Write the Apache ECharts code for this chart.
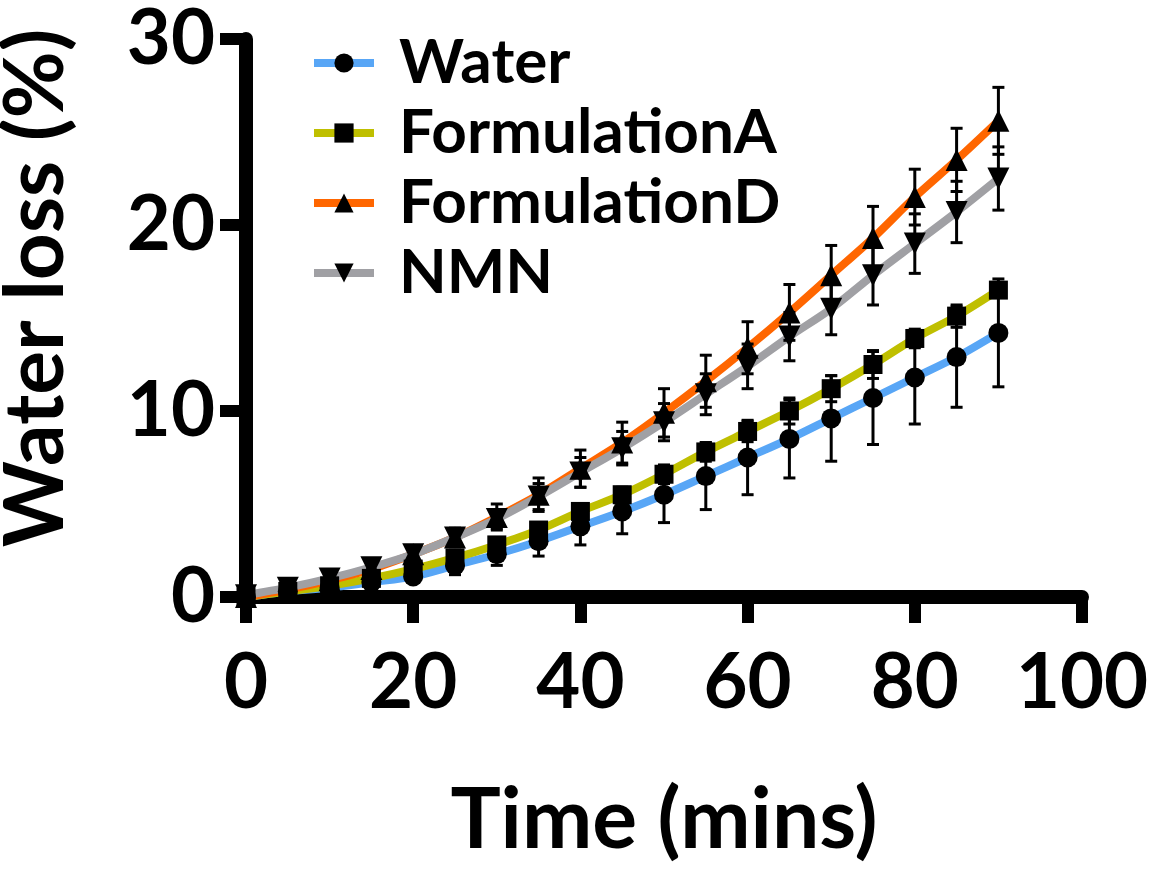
<html>
<head>
  <meta charset="utf-8" />
  <title>Water loss</title>
  <script src="https://cdn.jsdelivr.net/npm/echarts@6/dist/echarts.min.js"></script>
</head>
<body style="margin:0; background:#ffffff">
  <div id="main" style="width:1154px; height:871px;"></div>
  <script type="text/javascript">
    // time points (mins)
    var times = [0, 5, 10, 15, 20, 25, 30, 35, 40, 45, 50, 55, 60, 65, 70, 75, 80, 85, 90];

    // mean water loss (%) and error (+/-) for each group
    var waterMean = [0, 0.3, 0.5, 0.8, 1.1, 1.7, 2.3, 3.0, 3.8, 4.6, 5.5, 6.5, 7.5, 8.5, 9.6, 10.7, 11.8, 12.9, 14.2];
    var waterErr  = [0.1, 0.1, 0.2, 0.2, 0.3, 0.5, 0.6, 0.8, 1.0, 1.2, 1.5, 1.8, 2.0, 2.1, 2.3, 2.5, 2.5, 2.7, 2.9];
    var formAMean = [0, 0.3, 0.6, 1.0, 1.5, 2.1, 2.8, 3.6, 4.6, 5.5, 6.6, 7.8, 8.9, 10.0, 11.2, 12.5, 13.9, 15.1, 16.5];
    var formAErr  = [0.05, 0.1, 0.1, 0.1, 0.2, 0.2, 0.3, 0.3, 0.4, 0.4, 0.5, 0.5, 0.55, 0.7, 0.7, 0.75, 0.5, 0.6, 0.3];
    var formDMean = [0, 0.4, 0.9, 1.5, 2.3, 3.2, 4.3, 5.5, 6.9, 8.3, 9.9, 11.6, 13.4, 15.3, 17.3, 19.3, 21.5, 23.5, 25.6];
    var formDErr  = [0.05, 0.1, 0.2, 0.3, 0.4, 0.5, 0.7, 0.9, 1.0, 1.1, 1.3, 1.4, 1.4, 1.5, 1.6, 1.7, 1.5, 1.7, 1.8];
    var nmnMean   = [0.1, 0.5, 1.0, 1.6, 2.3, 3.2, 4.2, 5.4, 6.7, 8.0, 9.4, 10.9, 12.4, 14.0, 15.5, 17.3, 19.0, 20.7, 22.5];
    var nmnErr    = [0.05, 0.1, 0.2, 0.2, 0.3, 0.4, 0.5, 0.7, 0.8, 0.9, 1.0, 1.1, 1.2, 1.3, 1.4, 1.6, 1.6, 1.65, 1.7];

    var groupNames = ['Water', 'FormulationA', 'FormulationD', 'NMN'];
    var groupColors = ['#58a6f6', '#bfbf00', '#ff6600', '#a0a0a4'];
    var groupSymbols = ['circle', 'rect', 'triangle', 'path://M0,0 L10,0 L5,9 Z'];
    var groupMeans = [waterMean, formAMean, formDMean, nmnMean];
    var groupErrs = [waterErr, formAErr, formDErr, nmnErr];

    var FONT = 'Lato';

    function pairs(ys) {
        return times.map(function (t, i) { return [t, ys[i]]; });
    }
    function errRows(ys, es) {
        return times.map(function (t, i) { return [t, ys[i] - es[i], ys[i] + es[i]]; });
    }

    function renderErr(params, api) {
        var lo = api.coord([api.value(0), api.value(1)]);
        var hi = api.coord([api.value(0), api.value(2)]);
        var hw = 6;
        var st = {stroke: '#000', lineWidth: 3};
        return {type: 'group', children: [
            {type: 'line', shape: {x1: lo[0], y1: lo[1], x2: hi[0], y2: hi[1]}, style: st},
            {type: 'line', shape: {x1: lo[0] - hw, y1: lo[1], x2: lo[0] + hw, y2: lo[1]}, style: st},
            {type: 'line', shape: {x1: hi[0] - hw, y1: hi[1], x2: hi[0] + hw, y2: hi[1]}, style: st}
        ]};
    }

    var series = [];
    for (var g = 0; g < 4; g++) {
        series.push({
            name: groupNames[g] + ' error', type: 'custom', renderItem: renderErr,
            data: errRows(groupMeans[g], groupErrs[g]), z: 3, silent: true,
            encode: {x: 0, y: [1, 2]}, clip: false
        });
    }
    for (var g = 0; g < 4; g++) {
        series.push({
            name: groupNames[g], type: 'line', data: pairs(groupMeans[g]),
            smooth: 0.3, symbol: groupSymbols[g],
            symbolSize: g === 1 ? 19 : (g === 0 ? 20 : 22),
            lineStyle: {color: groupColors[g], width: 8},
            itemStyle: {color: '#000', borderWidth: 0},
            z: 2, clip: false
        });
    }

    var myChart = echarts.init(document.getElementById('main'));
    myChart.setOption({
        animation: false,
        textStyle: {fontFamily: FONT},
        grid: {left: 246, right: 72, top: 39, bottom: 274, containLabel: false, outerBoundsMode: 'none'},
        legend: {
            data: groupNames,
            orient: 'vertical', left: 305, top: 27,
            itemWidth: 60, itemHeight: 24, itemGap: 8,
            lineStyle: {width: 8},
            textStyle: {fontFamily: FONT, fontWeight: 'bold', fontSize: 62, color: '#000',
                        lineHeight: 62, padding: [0, 0, 0, 20]}
        },
        xAxis: {
            type: 'value', min: 0, max: 100, interval: 20,
            name: 'Time (mins)', nameLocation: 'middle', nameGap: 182,
            nameTextStyle: {fontFamily: FONT, fontWeight: 'bold', fontSize: 84, color: '#000'},
            axisLine: {lineStyle: {color: '#000', width: 14}},
            axisTick: {length: 26, lineStyle: {color: '#000', width: 12}},
            axisLabel: {fontFamily: FONT, fontWeight: 'bold', fontSize: 76, color: '#000', margin: 48},
            splitLine: {show: false}
        },
        yAxis: {
            type: 'value', min: 0, max: 30, interval: 10,
            name: 'Water loss (%)', nameLocation: 'middle', nameGap: 168, nameRotate: 90,
            nameTextStyle: {fontFamily: FONT, fontWeight: 'bold', fontSize: 82, color: '#000',
                            padding: [0, 0, 0, 60]},
            axisLine: {lineStyle: {color: '#000', width: 14}},
            axisTick: {length: 26, lineStyle: {color: '#000', width: 12}},
            axisLabel: {fontFamily: FONT, fontWeight: 'bold', fontSize: 76, color: '#000', margin: 31},
            splitLine: {show: false}
        },
        series: series
    });
  </script>
</body>
</html>
